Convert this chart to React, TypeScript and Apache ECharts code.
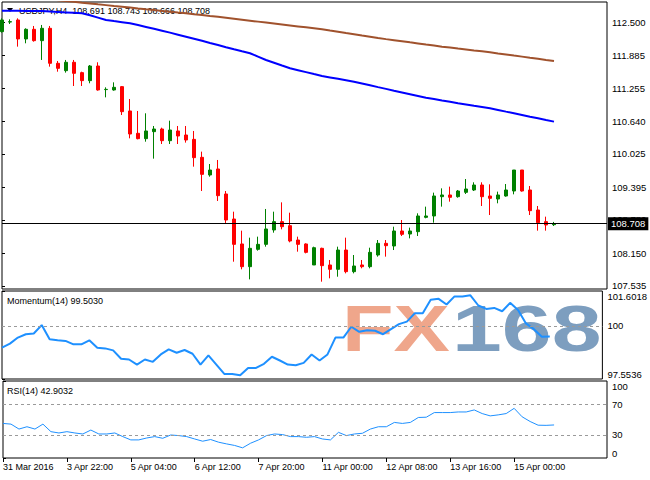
import React, { useEffect, useRef } from 'react';
import * as echarts from 'echarts';

const FONT = 'Liberation Sans, Arial, sans-serif';

// time labels, one every 8 bars (H4)
const timeLabels = ['31 Mar 2016', '3 Apr 22:00', '5 Apr 04:00', '6 Apr 12:00', '7 Apr 20:00', '11 Apr 00:00', '12 Apr 08:00', '13 Apr 16:00', '15 Apr 00:00'];
const labelStep = 8;

// [open, close, low, high]
const ohlc: number[][] = [
  [112.331, 112.551, 112.312, 112.582],
  [112.512, 112.519, 112.475, 112.563],
  [112.551, 112.193, 112.048, 112.582],
  [112.193, 112.375, 112.111, 112.394],
  [112.375, 112.161, 112.142, 112.438],
  [112.161, 112.394, 111.797, 112.457],
  [112.394, 111.734, 111.671, 112.438],
  [111.734, 111.639, 111.576, 111.778],
  [111.595, 111.753, 111.558, 111.797],
  [111.753, 111.545, 111.306, 111.797],
  [111.558, 111.407, 111.306, 111.576],
  [111.407, 111.683, 111.357, 111.702],
  [111.683, 111.231, 111.218, 111.753],
  [111.238, 111.243, 111.092, 111.281],
  [111.231, 111.281, 111.218, 111.375],
  [111.294, 110.822, 110.759, 111.306],
  [110.835, 110.401, 110.319, 111.061],
  [110.414, 110.313, 110.300, 110.835],
  [110.313, 110.458, 110.256, 110.791],
  [110.445, 110.495, 109.936, 110.552],
  [110.495, 110.275, 110.212, 110.520],
  [110.275, 110.476, 110.212, 110.652],
  [110.458, 110.363, 110.212, 110.552],
  [110.382, 110.288, 110.238, 110.552],
  [110.300, 109.955, 109.785, 110.458],
  [109.961, 109.640, 109.326, 110.068],
  [109.628, 109.722, 109.596, 109.835],
  [109.741, 109.238, 109.138, 109.911],
  [109.270, 108.779, 108.704, 109.326],
  [108.798, 108.320, 107.993, 108.936],
  [108.327, 107.899, 107.849, 108.578],
  [107.899, 108.245, 107.660, 108.446],
  [108.226, 108.320, 108.201, 108.465],
  [108.320, 108.610, 108.276, 108.987],
  [108.591, 108.748, 108.540, 108.936],
  [108.748, 108.653, 108.603, 109.112],
  [108.672, 108.383, 108.358, 108.917],
  [108.402, 108.320, 108.182, 108.465],
  [108.327, 108.169, 108.150, 108.339],
  [107.931, 108.257, 107.931, 108.276],
  [108.245, 107.918, 107.616, 108.257],
  [107.931, 107.849, 107.679, 108.025],
  [107.849, 108.213, 107.710, 108.276],
  [108.213, 107.805, 107.773, 108.446],
  [107.805, 107.912, 107.773, 108.119],
  [107.931, 107.899, 107.868, 108.025],
  [107.899, 108.169, 107.868, 108.257],
  [108.119, 108.339, 108.088, 108.402],
  [108.339, 108.295, 108.088, 108.402],
  [108.289, 108.572, 108.213, 108.653],
  [108.572, 108.509, 108.477, 108.779],
  [108.515, 108.572, 108.433, 108.635],
  [108.559, 108.855, 108.477, 108.905],
  [108.829, 108.855, 108.811, 109.031],
  [108.855, 109.232, 108.729, 109.295],
  [109.219, 109.251, 109.031, 109.376],
  [109.251, 109.207, 109.125, 109.408],
  [109.219, 109.326, 109.200, 109.345],
  [109.301, 109.364, 109.270, 109.552],
  [109.345, 109.439, 109.326, 109.490],
  [109.439, 109.219, 109.043, 109.490],
  [109.232, 109.188, 108.873, 109.452],
  [109.175, 109.251, 109.094, 109.314],
  [109.232, 109.345, 109.219, 109.458],
  [109.326, 109.722, 109.263, 109.722],
  [109.722, 109.326, 109.314, 109.722],
  [109.345, 108.955, 108.873, 109.420],
  [108.968, 108.729, 108.578, 109.043],
  [108.748, 108.685, 108.578, 108.842],
  [108.691, 108.708, 108.666, 108.743],
];

const maBlue = [
  112.726, 112.726, 112.724, 112.722, 112.720, 112.718, 112.710, 112.702, 112.694, 112.686,
  112.677, 112.640, 112.596, 112.551, 112.530, 112.510, 112.489, 112.455, 112.420, 112.385,
  112.349, 112.312, 112.274, 112.236, 112.197, 112.158, 112.118, 112.079, 112.038, 111.998,
  111.960, 111.923, 111.860, 111.797, 111.745, 111.692, 111.640, 111.604, 111.568, 111.531,
  111.495, 111.468, 111.441, 111.414, 111.387, 111.353, 111.319, 111.285, 111.252, 111.218,
  111.185, 111.152, 111.119, 111.086, 111.060, 111.033, 111.007, 110.980, 110.957, 110.933,
  110.910, 110.886, 110.855, 110.823, 110.792, 110.760, 110.728, 110.697, 110.665, 110.634,
];

const maBrown = [
  113.040, 113.025, 113.008, 112.990, 112.972, 112.958, 112.942, 112.925, 112.908, 112.893,
  112.877, 112.862, 112.846, 112.831, 112.815, 112.800, 112.785, 112.768, 112.752, 112.737,
  112.722, 112.706, 112.690, 112.676, 112.660, 112.645, 112.627, 112.610, 112.592, 112.574,
  112.556, 112.538, 112.520, 112.502, 112.484, 112.466, 112.448, 112.430, 112.412, 112.394,
  112.376, 112.352, 112.329, 112.305, 112.282, 112.258, 112.235, 112.211, 112.190, 112.170,
  112.150, 112.129, 112.109, 112.088, 112.068, 112.047, 112.030, 112.012, 111.995, 111.977,
  111.960, 111.942, 111.921, 111.901, 111.880, 111.860, 111.839, 111.819, 111.798, 111.778,
];

const momentum = [
  98.995, 99.181, 99.460, 99.614, 99.646, 100.033, 99.381, 99.335, 99.307, 99.148,
  99.148, 99.335, 98.995, 98.962, 98.869, 98.483, 98.450, 98.218, 98.450, 98.343,
  98.683, 98.916, 98.762, 98.888, 98.716, 98.218, 98.637, 98.218, 97.785, 97.785,
  97.725, 98.064, 98.064, 98.250, 98.576, 98.404, 98.218, 98.190, 98.297, 98.683,
  98.404, 98.683, 99.460, 99.460, 99.958, 99.725, 99.800, 99.772, 99.614, 99.846,
  100.079, 100.191, 100.577, 100.577, 101.196, 101.242, 100.982, 101.354, 101.354, 101.401,
  100.935, 100.777, 100.824, 100.670, 101.056, 100.731, 100.112, 99.846, 99.493, 99.503,
];

const rsi = [
  44.9, 44.0, 37.6, 40.6, 37.6, 44.0, 34.2, 32.5, 34.2, 32.5,
  31.2, 36.3, 31.2, 31.2, 32.5, 27.8, 23.5, 23.5, 26.0, 27.8,
  25.6, 29.9, 29.1, 27.8, 24.7, 21.8, 24.0, 20.5, 18.3, 16.3,
  13.2, 19.2, 23.5, 29.1, 31.2, 30.4, 27.8, 27.8, 26.9, 27.8,
  24.7, 23.5, 33.3, 29.1, 31.2, 32.1, 37.6, 40.6, 40.6, 46.2,
  44.9, 46.2, 52.6, 53.0, 59.0, 59.0, 59.0, 59.8, 59.8, 62.4,
  57.7, 54.7, 56.0, 57.7, 64.5, 53.5, 47.4, 42.6, 42.4, 42.9,
];

const priceTicks = [107.535, 108.150, 108.780, 109.395, 110.025, 110.640, 111.255, 111.885, 112.500];
const momentumTicks = [97.5536, 100, 101.6018];
const momentumLevel = 100;
const rsiTicks = [0, 30, 70, 100];
const rsiLevels = [30, 70];
const lastPrice = 108.708;
const titleText = 'USDJPY,H4  108.691 108.743 108.666 108.708';
const momentumTitle = 'Momentum(14) 99.5030';
const rsiTitle = 'RSI(14) 42.9032';

const PLOT_W = 605;
const BAR_PX = 8;
const XMAX = PLOT_W / BAR_PX;

export default function App() {
  const ref = useRef<HTMLDivElement>(null);
  useEffect(() => {
    if (!ref.current) return;
    const chart = echarts.init(ref.current, undefined, { renderer: 'svg' });
    const tickPos = timeLabels.map((_, i) => i * labelStep);
    const gridBase = { left: 2, right: 43, show: true, borderColor: '#000', borderWidth: 1, backgroundColor: 'transparent' };
    const hiddenX = (gi: number) => ({
      type: 'value', gridIndex: gi, min: 0, max: XMAX, show: false,
      splitLine: { show: false },
    });
    const yBase = {
      type: 'value', position: 'right', scale: true,
      axisLine: { show: false }, splitLine: { show: false },
    };
    const dashed = { color: '#9a9a9a', width: 1, type: [3, 3] as any };
    chart.setOption({
      animation: false,
      backgroundColor: '#fff',
      grid: [
        { ...gridBase, top: 2, height: 287 },
        { ...gridBase, top: 291, height: 88 },
        { ...gridBase, top: 381, height: 77 },
      ],
      xAxis: [
        hiddenX(0),
        hiddenX(1),
        {
          type: 'value', gridIndex: 2, min: 0, max: XMAX,
          axisLine: { show: false }, splitLine: { show: false },
          axisTick: { show: true, customValues: tickPos, length: 4, lineStyle: { color: '#000' } },
          axisLabel: {
            customValues: tickPos, align: 'left', margin: 4, fontSize: 9, color: '#000', fontFamily: FONT,
            formatter: (v: number) => timeLabels[Math.round(v / labelStep)] ?? '',
          },
        },
      ],
      yAxis: [
        {
          ...yBase, gridIndex: 0, min: 107.478, max: 112.890,
          axisTick: { show: true, customValues: priceTicks, length: 3, lineStyle: { color: '#000' } },
          axisLabel: { customValues: priceTicks, margin: 5, fontSize: 9.5, color: '#000', fontFamily: FONT, formatter: (v: number) => v.toFixed(3) },
        },
        {
          ...yBase, gridIndex: 1, min: momentumTicks[0], max: momentumTicks[momentumTicks.length - 1],
          axisTick: { show: true, customValues: momentumTicks, length: 3, lineStyle: { color: '#000' } },
          axisLabel: {
            customValues: momentumTicks, margin: 5, fontSize: 9.5, color: '#000', fontFamily: FONT,
            verticalAlignMinLabel: 'bottom', verticalAlignMaxLabel: 'top',
            formatter: (v: number) => (v === 100 ? '100' : v.toFixed(4)),
          },
        },
        {
          ...yBase, gridIndex: 2, min: 0, max: 100,
          axisTick: { show: true, customValues: rsiTicks, length: 3, lineStyle: { color: '#000' } },
          axisLabel: {
            customValues: rsiTicks, margin: 5, fontSize: 9.5, color: '#000', fontFamily: FONT,
            verticalAlignMinLabel: 'bottom', verticalAlignMaxLabel: 'top',
            formatter: (v: number) => String(v),
          },
        },
      ],
      graphic: [
        { type: 'polygon', z: 1, shape: { points: [[7, 8], [13, 8], [10, 12]] }, style: { fill: '#000' } },
        { type: 'text', z: 1, x: 19, y: 10.5, style: { text: titleText, fill: '#000', font: `9px ${FONT}`, textVerticalAlign: 'middle', verticalAlign: 'middle' } },
        { type: 'text', z: 1, x: 342, y: 328.5, scaleX: 1.32, style: { text: 'FX', fill: '#EFA68B', font: `bold 64px ${FONT}`, verticalAlign: 'middle' } },
        { type: 'text', z: 1, x: 452, y: 328.5, scaleX: 1.4, style: { text: '168', fill: '#7D9EBF', font: `bold 64px ${FONT}`, verticalAlign: 'middle' } },
        { type: 'text', z: 3, x: 7, y: 300.5, style: { text: momentumTitle, fill: '#000', font: `9px ${FONT}`, verticalAlign: 'middle' } },
        { type: 'text', z: 3, x: 7, y: 390.5, style: { text: rsiTitle, fill: '#000', font: `9px ${FONT}`, verticalAlign: 'middle' } },
      ],
      series: [
        {
          type: 'candlestick', xAxisIndex: 0, yAxisIndex: 0,
          data: ohlc.map((d, i) => [i, d[0], d[1], d[2], d[3]]),
          encode: { x: 0, y: [1, 2, 3, 4] },
          barWidth: 4,
          itemStyle: { color: '#008000', color0: '#FF0000', borderColor: '#008000', borderColor0: '#FF0000', borderWidth: 1 },
          markLine: {
            silent: true, symbol: 'none', animation: false,
            lineStyle: { color: '#000', width: 1, type: 'solid' },
            label: {
              show: true, position: 'end', distance: 1, formatter: lastPrice.toFixed(3),
              backgroundColor: '#000', color: '#fff', padding: [2, 3, 1, 3], fontSize: 9.5, fontFamily: FONT,
            },
            data: [{ yAxis: lastPrice }],
          },
        },
        {
          type: 'line', xAxisIndex: 0, yAxisIndex: 0, showSymbol: false, clip: true,
          data: maBrown.map((v, i) => [i, v]),
          lineStyle: { color: '#A0522D', width: 2 },
        },
        {
          type: 'line', xAxisIndex: 0, yAxisIndex: 0, showSymbol: false, clip: true,
          data: maBlue.map((v, i) => [i, v]),
          lineStyle: { color: '#0000FF', width: 2 },
        },
        {
          type: 'line', xAxisIndex: 1, yAxisIndex: 1, showSymbol: false,
          data: momentum.map((v, i) => [i, v]),
          lineStyle: { color: '#1E90FF', width: 2 },
          markLine: { silent: true, symbol: 'none', label: { show: false }, lineStyle: dashed, data: [{ yAxis: momentumLevel }] },
        },
        {
          type: 'line', xAxisIndex: 2, yAxisIndex: 2, showSymbol: false,
          data: rsi.map((v, i) => [i, v]),
          lineStyle: { color: '#1E90FF', width: 1 },
          markLine: { silent: true, symbol: 'none', label: { show: false }, lineStyle: dashed, data: rsiLevels.map((l) => ({ yAxis: l })) },
        },
      ],
    });
    return () => chart.dispose();
  }, []);
  return <div ref={ref} style={{ position: 'fixed', left: 0, top: 0, width: 650, height: 480 }} />;
}
